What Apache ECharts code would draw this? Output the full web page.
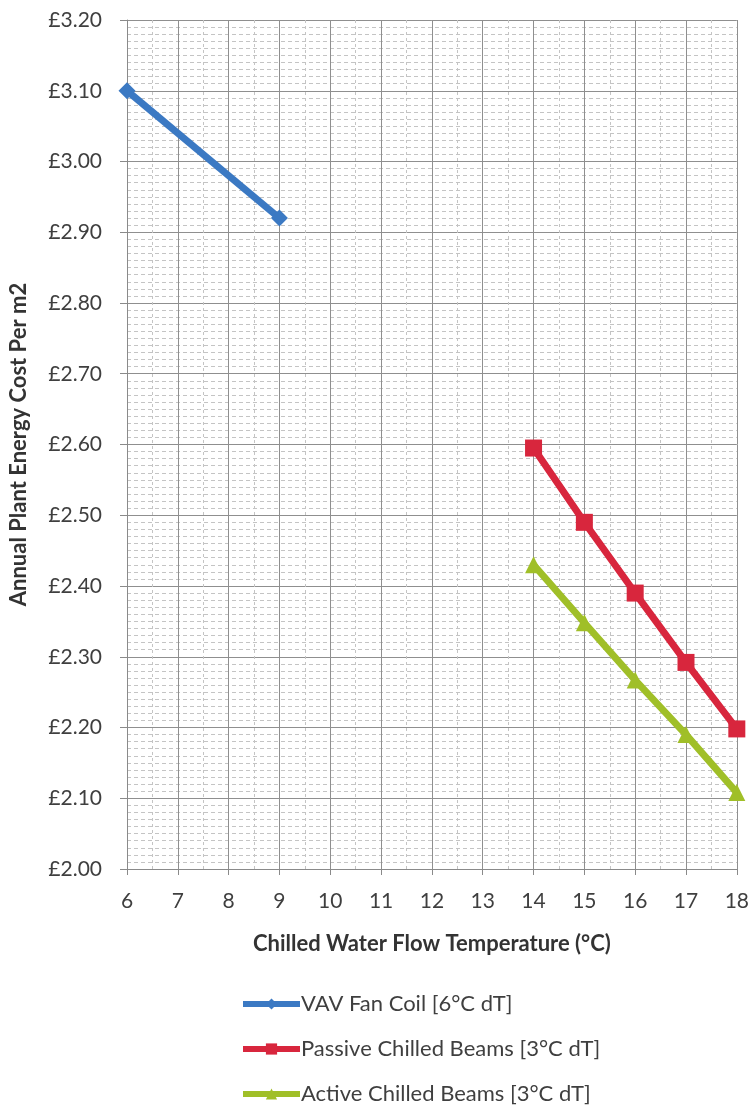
<!DOCTYPE html>
<html>
<head>
<meta charset="utf-8">
<script src="https://cdn.jsdelivr.net/npm/echarts@6/dist/echarts.min.js"></script>
<style>
    html, body { margin: 0; padding: 0; background: #fff; }
    #chart { width: 752px; height: 1106px; }
</style>
</head>
<body>
<div id="chart"></div>
<script>
// chilled water flow temperature (°C)
var vavTemps = [6, 9];
var vavCost = [3.10, 2.92];
var beamTemps = [14, 15, 16, 17, 18];
var passiveCost = [2.595, 2.49, 2.39, 2.292, 2.198];
var activeCost = [2.43, 2.348, 2.267, 2.19, 2.108];

var seriesNames = [
    'VAV Fan Coil [6°C dT]',
    'Passive Chilled Beams [3°C dT]',
    'Active Chilled Beams [3°C dT]'
];

function pairs(xs, ys) {
    return xs.map(function(x, i) { return [x, ys[i]]; });
}

var font = 'Lato, "Open Sans", sans-serif';
var textColor = '#3f3f3f';

var myChart = echarts.init(document.getElementById('chart'), null, { renderer: 'canvas' });

var option = {
    animation: false,
    backgroundColor: '#fff',
    grid: {
        left: 127,
        right: 15,
        top: 20,
        bottom: 237
    },
    legend: {
        orient: 'vertical',
        left: 240,
        top: 993,
        height: 160,
        padding: 0,
        itemWidth: 57,
        itemHeight: 14,
        itemGap: 23,
        lineStyle: { width: 6 },
        textStyle: {
            fontFamily: font,
            fontSize: 22,
            color: textColor,
            padding: [0, 0, 0, -4]
        },
        data: seriesNames
    },
    xAxis: {
        type: 'value',
        min: 6,
        max: 18,
        interval: 1,
        name: 'Chilled Water Flow Temperature (°C)',
        nameLocation: 'middle',
        nameGap: 64,
        nameTextStyle: {
            fontFamily: font,
            fontSize: 22,
            fontWeight: 'bold',
            color: '#333'
        },
        axisLine: { show: true, lineStyle: { color: '#8a8a8a', width: 1 } },
        axisTick: { show: true, inside: false, length: 6, lineStyle: { color: '#8a8a8a' } },
        axisLabel: {
            fontFamily: font,
            fontSize: 21,
            color: textColor,
            margin: 22
        },
        splitLine: { show: true, lineStyle: { color: '#8f8f8f', width: 1 } },
        minorTick: { show: false, splitNumber: 2 },
        minorSplitLine: { show: true, lineStyle: { color: '#c4c4c4', width: 1, type: [3, 3] } }
    },
    yAxis: {
        type: 'value',
        min: 2,
        max: 3.2,
        interval: 0.1,
        name: 'Annual Plant Energy Cost Per m2',
        nameLocation: 'middle',
        nameGap: 97,
        nameTextStyle: {
            fontFamily: font,
            fontSize: 22,
            fontWeight: 'bold',
            color: '#333'
        },
        axisLine: { show: true, lineStyle: { color: '#8a8a8a', width: 1 } },
        axisTick: { show: true, inside: false, length: 7, lineStyle: { color: '#8a8a8a' } },
        axisLabel: {
            fontFamily: font,
            fontSize: 21,
            color: textColor,
            margin: 25,
            formatter: function(v) { return '£' + v.toFixed(2); }
        },
        splitLine: { show: true, lineStyle: { color: '#8f8f8f', width: 1 } },
        minorTick: { show: false, splitNumber: 10 },
        minorSplitLine: { show: true, lineStyle: { color: '#c4c4c4', width: 1, type: [4, 3] } }
    },
    series: [
        {
            name: seriesNames[0],
            type: 'line',
            data: pairs(vavTemps, vavCost),
            symbol: 'diamond',
            symbolSize: 17,
            lineStyle: { color: '#3b79c3', width: 7 },
            itemStyle: { color: '#3b79c3' }
        },
        {
            name: seriesNames[1],
            type: 'line',
            data: pairs(beamTemps, passiveCost),
            symbol: 'rect',
            symbolSize: 17,
            lineStyle: { color: '#d8263d', width: 7 },
            itemStyle: { color: '#d8263d' }
        },
        {
            name: seriesNames[2],
            type: 'line',
            data: pairs(beamTemps, activeCost),
            symbol: 'triangle',
            symbolSize: 17,
            lineStyle: { color: '#a0bf28', width: 7 },
            itemStyle: { color: '#a0bf28' }
        }
    ]
};

myChart.setOption(option);
</script>
</body>
</html>
